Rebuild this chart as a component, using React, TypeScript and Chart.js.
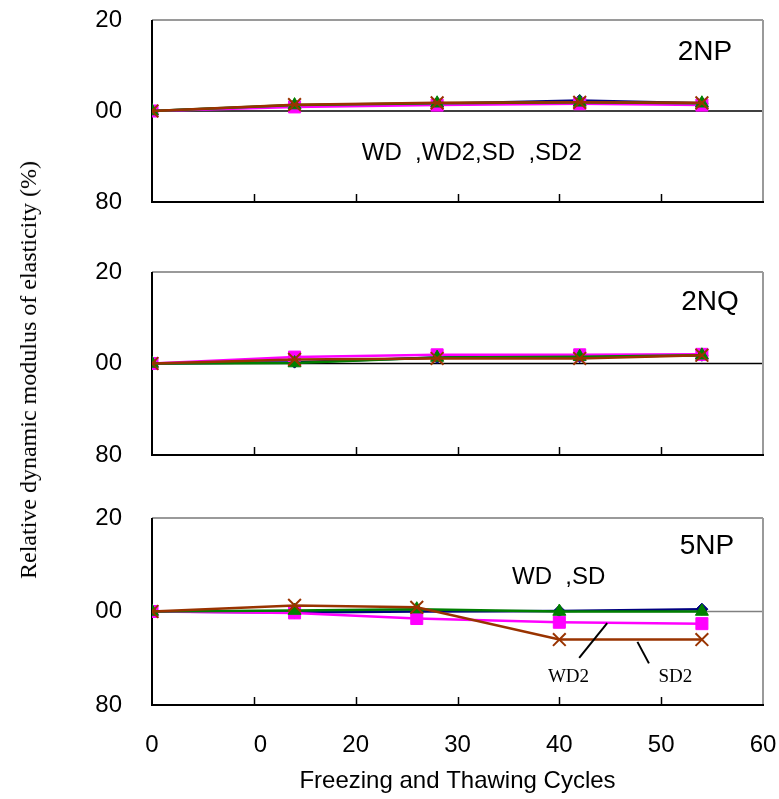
import React, { useEffect, useRef } from 'react';
import { Chart, registerables } from 'chart.js';

Chart.register(...registerables);

// ---------- data ----------
const cyclesNP = [0, 14, 28, 42, 54];
const cyclesNQ = [0, 14, 28, 42, 54];
const cycles5NP = [0, 14, 26, 40, 54];

// 2NP
const np2WD = [100, 101.2, 101.6, 102.3, 101.7];
const np2WD2 = [100, 100.9, 101.3, 101.6, 101.3];
const np2SD = [100, 101.3, 101.7, 101.9, 101.7];
const np2SD2 = [100, 101.4, 101.8, 101.9, 101.8];

// 2NQ
const nq2WD = [100, 100.3, 101.3, 101.5, 101.8];
const nq2WD2 = [100, 101.4, 101.9, 101.9, 102.0];
const nq2SD = [100, 100.1, 101.3, 101.5, 101.8];
const nq2SD2 = [100, 100.9, 101.1, 101.1, 101.8];

// 5NP
const np5WD = [100, 99.8, 100.0, 100.1, 100.5];
const np5WD2 = [100, 99.7, 98.5, 97.7, 97.4];
const np5SD = [100, 100.2, 100.5, 100.0, 100.0];
const np5SD2 = [100, 101.3, 100.9, 94.0, 94.0];

const seriesNames = ['WD', 'WD2', 'SD', 'SD2'];
const yTickLabels = ['80', '00', '20'];
const xTickLabels = ['0', '\u20070', '20', '30', '40', '50', '60'];

const yTitle = 'Relative dynamic modulus of elasticity (%)';
const xTitle = 'Freezing and Thawing Cycles';

// ---------- styles ----------
const SANS = '"Liberation Sans", Arial, sans-serif';
const SERIF = '"Liberation Serif", "Times New Roman", serif';

const seriesStyles = [
  { color: '#000080', pointStyle: 'rectRot', radius: 6, order: 3 },
  { color: '#FF00FF', pointStyle: 'rect', radius: 8.5, order: 2 },
  { color: '#008000', pointStyle: 'triangle', radius: 7.5, order: 1 },
  { color: '#993300', pointStyle: 'crossRot', radius: 9, order: 0 },
];

type Note = { text: string; x: number; y: number; font: string; align: CanvasTextAlign };
type Leader = { x1: number; y1: number; x2: number; y2: number };

type PanelCfg = {
  id: string;
  cycles: number[];
  series: number[][];
  top: number;
  height: number;
  padTop: number;
  padBottom: number;
  xAxisHeight: number;
  showX: boolean;
  refColor: string;
  notes: Note[];
  leaders: Leader[];
};

const panels: PanelCfg[] = [
  {
    id: '2NP',
    cycles: cyclesNP,
    series: [np2WD, np2WD2, np2SD, np2SD2],
    top: 0,
    height: 230,
    padTop: 20,
    padBottom: 28,
    xAxisHeight: 0,
    showX: false,
    refColor: '#000',
    notes: [
      { text: '2NP', x: 54.3, y: 112.9, font: '28px ' + SANS, align: 'center' },
      { text: 'WD  ,WD2,SD  ,SD2', x: 20.6, y: 90.7, font: '24px ' + SANS, align: 'left' },
    ],
    leaders: [],
  },
  {
    id: '2NQ',
    cycles: cyclesNQ,
    series: [nq2WD, nq2WD2, nq2SD, nq2SD2],
    top: 250,
    height: 230,
    padTop: 22,
    padBottom: 25,
    xAxisHeight: 0,
    showX: false,
    refColor: '#000',
    notes: [{ text: '2NQ', x: 54.8, y: 113.3, font: '28px ' + SANS, align: 'center' }],
    leaders: [],
  },
  {
    id: '5NP',
    cycles: cycles5NP,
    series: [np5WD, np5WD2, np5SD, np5SD2],
    top: 496,
    height: 303,
    padTop: 22,
    padBottom: 0,
    xAxisHeight: 94,
    showX: true,
    refColor: '#808080',
    notes: [
      { text: '5NP', x: 54.5, y: 113.9, font: '28px ' + SANS, align: 'center' },
      { text: 'WD  ,SD', x: 35.35, y: 107.4, font: '24px ' + SANS, align: 'left' },
      { text: 'WD2', x: 40.9, y: 86.0, font: '19px ' + SERIF, align: 'center' },
      { text: 'SD2', x: 51.4, y: 86.0, font: '19px ' + SERIF, align: 'center' },
    ],
    leaders: [
      { x1: 44.7, y1: 97.5, x2: 41.95, y2: 90.1 },
      { x1: 47.67, y1: 93.5, x2: 48.8, y2: 88.9 },
    ],
  },
];

const framePlugin = {
  id: 'frame',
  beforeDatasetsDraw(chart: any, _args: any, opts: any) {
    const { ctx, chartArea: a, scales } = chart;
    const xs = scales.x;
    const ys = scales.y;
    ctx.save();
    const line = (x1: number, y1: number, x2: number, y2: number) => {
      ctx.beginPath();
      ctx.moveTo(x1, y1);
      ctx.lineTo(x2, y2);
      ctx.stroke();
    };
    // reference line at 100
    const y100 = ys.getPixelForValue(100);
    ctx.strokeStyle = opts.refColor;
    ctx.lineWidth = 1.5;
    line(a.left, y100, a.right, y100);
    // top and right borders (grey)
    ctx.strokeStyle = '#9a9a9a';
    ctx.lineWidth = 2;
    line(a.left, a.top, a.right, a.top);
    line(a.right, a.top, a.right, a.bottom);
    // left and bottom borders (black)
    ctx.strokeStyle = '#000';
    ctx.lineWidth = 2;
    line(a.left, a.top, a.left, a.bottom + 1);
    line(a.left, a.bottom, a.right + 1, a.bottom);
    // inner tick marks
    ctx.lineWidth = 1.5;
    const ticks = xs.ticks || [];
    for (let i = 1; i < ticks.length - 1; i++) {
      const px = Math.round(xs.getPixelForValue(ticks[i].value)) + 0.5;
      line(px, a.bottom, px, a.bottom - 8);
    }
    ctx.restore();
  },
  afterDatasetsDraw(chart: any, _args: any, opts: any) {
    const { ctx, scales } = chart;
    const xs = scales.x;
    const ys = scales.y;
    ctx.save();
    ctx.strokeStyle = '#000';
    ctx.lineWidth = 2;
    (opts.leaders || []).forEach((l: Leader) => {
      ctx.beginPath();
      ctx.moveTo(xs.getPixelForValue(l.x1), ys.getPixelForValue(l.y1));
      ctx.lineTo(xs.getPixelForValue(l.x2), ys.getPixelForValue(l.y2));
      ctx.stroke();
    });
    ctx.fillStyle = '#000';
    ctx.textBaseline = 'middle';
    (opts.notes || []).forEach((n: Note) => {
      ctx.font = n.font;
      ctx.textAlign = n.align;
      ctx.fillText(n.text, xs.getPixelForValue(n.x), ys.getPixelForValue(n.y));
    });
    ctx.restore();
  },
};

function Panel({ cfg }: { cfg: PanelCfg }) {
  const ref = useRef<HTMLCanvasElement>(null);
  useEffect(() => {
    const datasets = cfg.series.map((vals, i) => {
      const st = seriesStyles[i];
      return {
        label: seriesNames[i],
        data: cfg.cycles.map((c, j) => ({ x: c, y: vals[j] })),
        borderColor: st.color,
        backgroundColor: st.color,
        pointBackgroundColor: st.color,
        pointBorderColor: st.color,
        pointStyle: st.pointStyle as any,
        pointRadius: st.radius,
        pointBorderWidth: st.pointStyle === 'crossRot' ? 2 : 1,
        borderWidth: 2.5,
        tension: 0,
        order: st.order,
      };
    });
    const chart = new Chart(ref.current!, {
      type: 'line',
      data: { datasets },
      plugins: [framePlugin as any],
      options: {
        animation: false,
        responsive: false,
        maintainAspectRatio: false,
        devicePixelRatio: 1,
        layout: { padding: { top: cfg.padTop, bottom: cfg.padBottom, left: 0, right: 16 } },
        plugins: {
          legend: { display: false },
          tooltip: { enabled: false },
          frame: { refColor: cfg.refColor, notes: cfg.notes, leaders: cfg.leaders },
        } as any,
        scales: {
          x: {
            type: 'linear',
            min: 0,
            max: 60,
            grid: { display: false, drawTicks: false },
            border: { display: false },
            ticks: {
              display: cfg.showX,
              stepSize: 10,
              autoSkip: false,
              maxRotation: 0,
              padding: 26,
              color: '#000',
              font: { family: SANS, size: 24 },
              callback: (_v: any, idx: number) => xTickLabels[idx],
            },
            title: {
              display: cfg.showX,
              text: xTitle,
              color: '#000',
              font: { family: SANS, size: 24 },
              padding: { top: 0, bottom: 3 },
            },
            afterFit: (s: any) => {
              s.height = cfg.xAxisHeight;
              s.paddingLeft = 0;
              s.paddingRight = 0;
            },
          },
          y: {
            type: 'linear',
            min: 80,
            max: 120,
            grid: { display: false, drawTicks: false },
            border: { display: false },
            ticks: {
              stepSize: 20,
              autoSkip: false,
              padding: 30,
              color: '#000',
              font: { family: SANS, size: 24 },
              callback: (_v: any, idx: number) => yTickLabels[idx],
            },
            afterFit: (s: any) => {
              s.width = 152;
              s.paddingTop = 0;
              s.paddingBottom = 0;
            },
          },
        },
      },
    });
    return () => chart.destroy();
  }, [cfg]);
  return (
    <canvas
      ref={ref}
      width={779}
      height={cfg.height}
      style={{ position: 'absolute', left: 0, top: cfg.top, width: 779, height: cfg.height }}
    />
  );
}

export default function App() {
  return (
    <div
      style={{
        position: 'absolute',
        left: 0,
        top: 0,
        width: 779,
        height: 799,
        background: '#fff',
        overflow: 'hidden',
      }}
    >
      {panels.map((p) => (
        <Panel key={p.id} cfg={p} />
      ))}
      <div
        style={{
          position: 'absolute',
          left: 28,
          top: 370,
          transform: 'translate(-50%, -50%) rotate(-90deg)',
          whiteSpace: 'nowrap',
          font: '24px ' + SERIF,
          lineHeight: 1,
          color: '#000',
        }}
      >
        {yTitle}
      </div>
    </div>
  );
}
